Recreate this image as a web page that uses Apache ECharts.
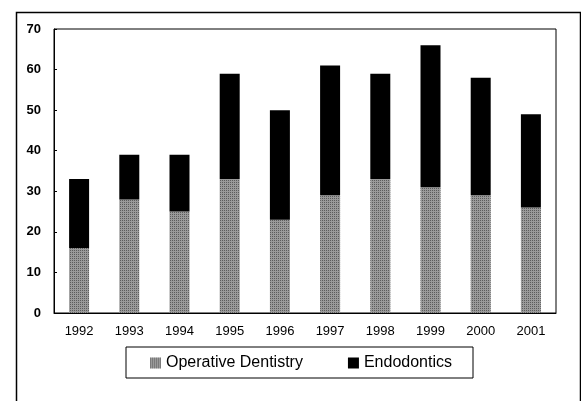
<!DOCTYPE html>
<html><head><meta charset="utf-8">
<script src="https://cdn.jsdelivr.net/npm/echarts@6/dist/echarts.min.js"></script>
<style>html,body{margin:0;padding:0;background:#fff}#c{width:581px;height:401px}</style>
</head><body><div id="c"></div>
<script>
const years = ['1992','1993','1994','1995','1996','1997','1998','1999','2000','2001'];
const operative = [16, 28, 25, 33, 23, 29, 33, 31, 29, 26];
const totals = [33, 39, 39, 59, 50, 61, 59, 66, 58, 49];
const endodontics = totals.map((t, i) => t - operative[i]);
const yTicks = {min: 0, max: 70, interval: 10};

const chart = echarts.init(document.getElementById('c'), null, {renderer: 'canvas'});
const font = '"Liberation Sans", Arial, sans-serif';
chart.setOption({
  animation: false,
  graphic: [{
    type: 'rect', left: 14, top: 10, shape: {x: 0, y: 0, width: 564, height: 430},
    style: {fill: 'none', stroke: '#000', lineWidth: 1.5}, silent: true
  }],
  grid: {left: 54, top: 29, right: 25, bottom: 88, show: true, borderColor: '#000', borderWidth: 1},
  legend: {
    left: 126, top: 347, padding: [8, 21, 7, 24], itemGap: 45,
    borderColor: '#000', borderWidth: 1,
    itemWidth: 11, itemHeight: 11, icon: 'rect',
    textStyle: {fontFamily: font, fontSize: 16, color: '#000'},
    data: ['Operative Dentistry', 'Endodontics']
  },
  xAxis: {
    type: 'category', data: years,
    axisLine: {lineStyle: {color: '#000', width: 1}},
    axisTick: {inside: true, length: 4, lineStyle: {color: '#000'}},
    axisLabel: {fontFamily: font, fontSize: 13, color: '#000', margin: 12}
  },
  yAxis: {
    type: 'value', min: yTicks.min, max: yTicks.max, interval: yTicks.interval,
    splitLine: {show: false},
    axisLine: {show: true, lineStyle: {color: '#000', width: 1}},
    axisTick: {show: true, inside: true, length: 3, lineStyle: {color: '#000'}},
    axisLabel: {fontFamily: font, fontSize: 13, fontWeight: 'bold', color: '#000', margin: 13}
  },
  series: [{
    name: 'Operative Dentistry', type: 'bar', stack: 's', data: operative, barWidth: 20,
    itemStyle: {
      color: '#9a9a9a',
      decal: {symbol: 'rect', symbolSize: 1, dashArrayX: [1, 1], dashArrayY: [1, 1], color: 'rgba(30,30,30,0.5)', rotation: 0}
    }
  }, {
    name: 'Endodontics', type: 'bar', stack: 's', data: endodontics, barWidth: 20,
    itemStyle: {color: '#000'}
  }]
});
</script></body></html>
